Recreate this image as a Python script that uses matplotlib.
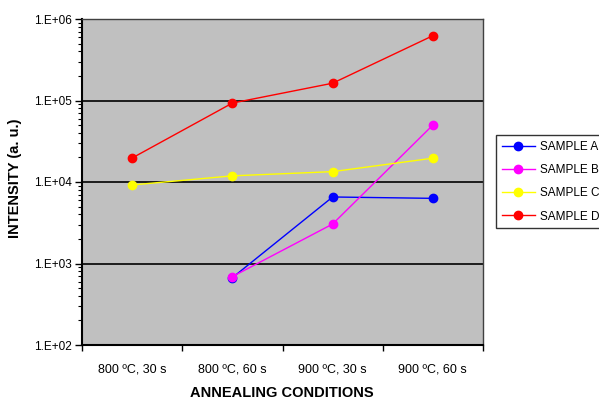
import matplotlib
matplotlib.use("Agg")
import matplotlib.pyplot as plt
import numpy as np
from matplotlib.ticker import LogLocator, FixedLocator, NullFormatter

plt.rcParams['font.family'] = ['Liberation Sans', 'DejaVu Sans']

conditions = ['800 ºC, 30 s', '800 ºC, 60 s', '900 ºC, 30 s', '900 ºC, 60 s']

# intensity per sample (None = no measurement)
sample_a = [None, 670, 6550, 6300]
sample_b = [None, 690, 3050, 50000]
sample_c = [9200, 11900, 13400, 19600]
sample_d = [19700, 93000, 163000, 624000]

series = [('SAMPLE A', sample_a, '#0000FF'),
          ('SAMPLE B', sample_b, '#FF00FF'),
          ('SAMPLE C', sample_c, '#FFFF00'),
          ('SAMPLE D', sample_d, '#FF0000')]

fig = plt.figure(figsize=(5.99, 3.99), dpi=100)
ax = fig.add_axes([82/599, 1-345/399, (483-82)/599, (345-19)/399])
ax.set_facecolor('#C0C0C0')

x = np.arange(len(conditions))
for name, vals, col in series:
    xs = [i for i, v in zip(x, vals) if v is not None]
    ys = [v for v in vals if v is not None]
    ax.plot(xs, ys, color=col, lw=1, marker='o', markersize=6,
            markeredgecolor=col, label=name)

ax.set_yscale('log')
ax.set_ylim(1e2, 1e6)
ax.set_xlim(-0.5, 3.5)

ax.yaxis.set_minor_locator(LogLocator(base=10, subs=np.arange(2, 10), numticks=10))
ax.yaxis.set_minor_formatter(NullFormatter())
ax.set_yticks([1e2, 1e3, 1e4, 1e5, 1e6])
ax.set_yticklabels(['1.E+02', '1.E+03', '1.E+04', '1.E+05', '1.E+06'])
ax.yaxis.grid(True, which='major', color='black', lw=1.2)
ax.set_axisbelow(True)

ax.xaxis.set_major_locator(FixedLocator(np.arange(-0.5, 4.0, 1.0)))
ax.xaxis.set_major_formatter(NullFormatter())
ax.xaxis.set_minor_locator(FixedLocator(x))
ax.set_xticklabels(conditions, minor=True)
ax.tick_params(axis='x', which='minor', length=0, pad=13, labelsize=9)
ax.tick_params(axis='x', which='major', length=4, width=1, direction='out')
ax.tick_params(axis='y', which='major', length=5, width=1, labelsize=8.5, pad=2)
ax.tick_params(axis='y', which='minor', length=3, width=0.8)

for s in ['left', 'bottom']:
    ax.spines[s].set_linewidth(1.5)
    ax.spines[s].set_color('black')
for s in ['top', 'right']:
    ax.spines[s].set_linewidth(1)
    ax.spines[s].set_color('#404040')

fig.text(15/599, 1-178/399, 'INTENSITY (a. u.)', fontsize=10.5, fontweight='bold',
         rotation=90, ha='center', va='center')
fig.text(282/599, 1-393/399, 'ANNEALING CONDITIONS', fontsize=10.5,
         fontweight='bold', ha='center', va='center')

leg = fig.legend(loc='upper left', bbox_to_anchor=(496/599, 1-135/399),
                 fontsize=8.5, frameon=True, fancybox=False, handlelength=2.8,
                 handletextpad=0.45, labelspacing=0.95, borderpad=0.5,
                 borderaxespad=0)
leg.get_frame().set_edgecolor('black')
leg.get_frame().set_linewidth(1)

fig.savefig('out.png', dpi=100)
